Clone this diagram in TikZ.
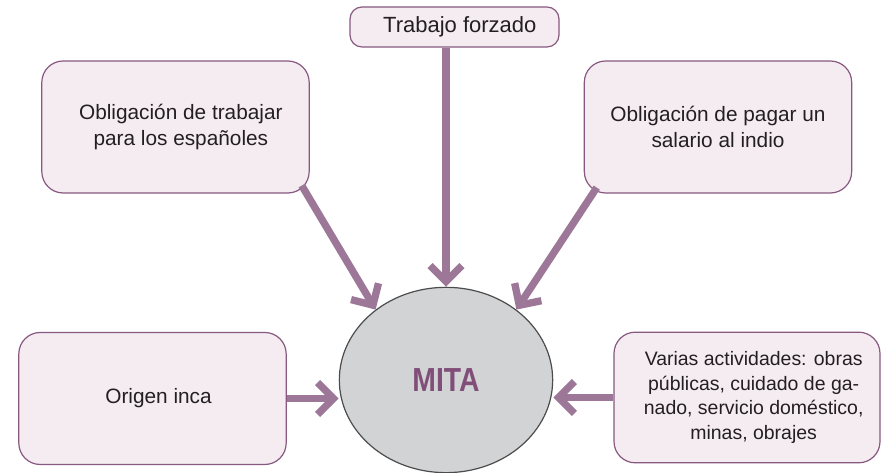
\documentclass[tikz,border=0pt]{standalone}
\usepackage{fontspec}
\setmainfont{Liberation Sans}
\usetikzlibrary{positioning, calc, arrows.meta, shapes.geometric}
\definecolor{boxfill}{RGB}{245,236,242}
\definecolor{boxline}{RGB}{135,88,128}
\definecolor{arrowcol}{RGB}{157,119,152}
\definecolor{mitatext}{RGB}{128,78,120}
\definecolor{mitafill}{RGB}{209,211,213}
\definecolor{textgrey}{RGB}{35,31,32}

\begin{document}
\begin{tikzpicture}[
          x = 0.75pt, y = 0.75pt,
          inner sep = 0, text = textgrey,
          font = \fontsize{15.6pt}{19pt}\selectfont
        ]
          \tikzstyle {concept} = [draw = boxline, line width = 0.9pt, fill = boxfill, rounded corners = 16pt, align = center, minimum width = 200.5pt, minimum height = 99pt]
          \tikzstyle {centre} = [draw = black!70, line width = 0.9pt, fill = mitafill, shape = ellipse, minimum width = 160pt, minimum height = 139pt]
          \tikzstyle {arrow} = [draw = arrowcol, line width = 5.5pt, -{Straight Barb[length = 12pt, width = 24pt]}]
          \useasboundingbox (0,0) rectangle (881,473);
          % place nodes
          \path node (mita) [centre] at (446,93) {\fontsize{25pt}{25pt}\bfseries\color{mitatext}\scalebox{0.85}[1]{MITA}};
          \path node (trab) [concept, rounded corners = 9pt, minimum width = 156.75pt, minimum height = 30pt, font = \fontsize{16.5pt}{19pt}\selectfont] at (454.5,446) {\hspace*{8pt}Trabajo forzado};
          \path node (oblig) [concept] at (175.5,346) {\hspace*{8pt}Obligación de trabajar\\\hspace*{8pt}para los españoles};
          \path node (pago) [concept] at (718,346) {Obligación de pagar un\\salario al indio};
          \path node (origen) [concept] at (152.5,74.5) {\hspace*{9pt}Origen inca};
          \path node (varias) [concept, minimum width = 199.5pt, minimum height = 98pt, font = \fontsize{14.6pt}{18.5pt}\selectfont] at (747,75.5) {\hspace*{10pt}Varias actividades: obras\\\hspace*{10pt}públicas, cuidado de ga-\\\hspace*{10pt}nado, servicio doméstico,\\\hspace*{10pt}minas, obrajes};
          % place edges
          \draw [arrow] (trab.south -| mita.north) -- (mita.north);
          \draw [arrow] ($(oblig.south east)+(-8,8)$) -- (mita.135);
          \draw [arrow] ($(pago.south west)+(13,6)$) -- (mita.45);
          \foreach \s/\a/\b in {origen/east/west, varias/west/east}
            { \draw [arrow] (\s.\a) -- (mita.\b |- \s.\a) ; } ;
        \end{tikzpicture}
\end{document}
